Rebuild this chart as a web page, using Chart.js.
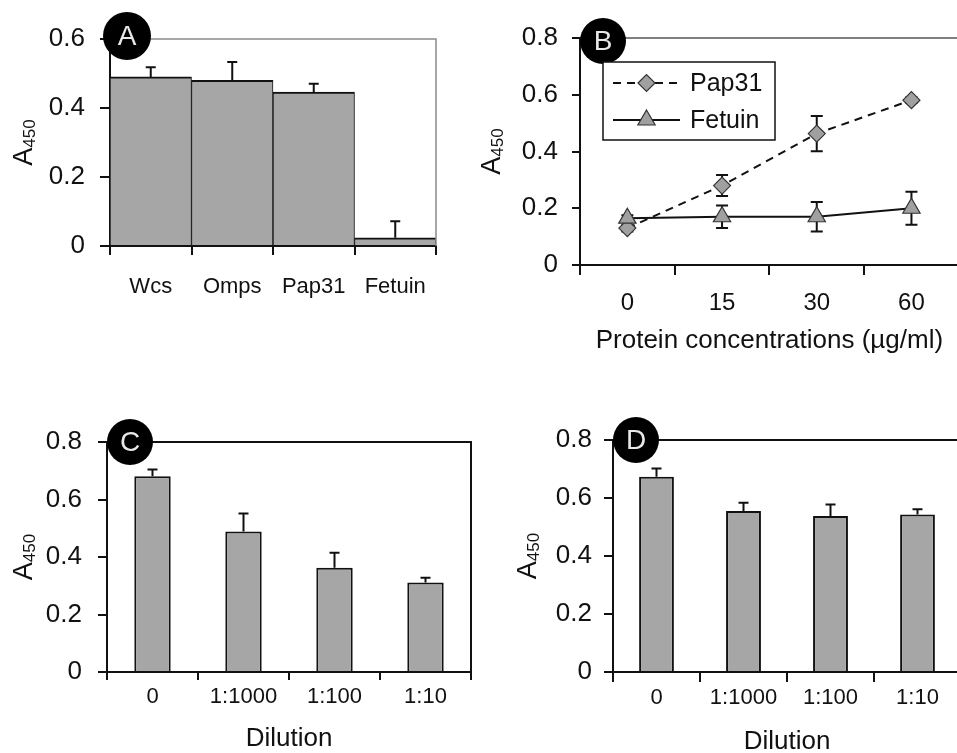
<!DOCTYPE html>
<html>
<head>
<meta charset="utf-8">
<script src="https://cdn.jsdelivr.net/npm/chart.js@4.4.0/dist/chart.umd.min.js"></script>
<style>
  html, body { margin: 0; padding: 0; background: #fff; }
  body { width: 957px; height: 753px; overflow: hidden; position: relative; }
  canvas { position: absolute; }
</style>
</head>
<body>
<canvas id="panelA" width="460" height="320" style="left:0;top:0"></canvas>
<canvas id="panelB" width="500" height="360" style="left:470px;top:0"></canvas>
<canvas id="panelC" width="480" height="370" style="left:0;top:390px"></canvas>
<canvas id="panelD" width="490" height="370" style="left:480px;top:390px"></canvas>
<script>
'use strict';

// Panel A - binding to proteins
const proteinsA = ['Wcs', 'Omps', 'Pap31', 'Fetuin'];
const valuesA = [0.49, 0.48, 0.446, 0.024];
const errorsA = [0.028, 0.053, 0.024, 0.048];

// Panel B - protein concentration series
const concentrationsB = ['0', '15', '30', '60'];
const pap31B = [0.13, 0.28, 0.463, 0.581];
const pap31ErrB = [0.012, 0.037, 0.062, 0.01];
const fetuinB = [0.165, 0.17, 0.17, 0.2];
const fetuinErrB = [0.01, 0.04, 0.052, 0.058];

// Panels C and D - dilutions
const dilutions = ['0', '1:1000', '1:100', '1:10'];
const valuesC = [0.681, 0.489, 0.363, 0.311];
const errorsC = [0.023, 0.062, 0.052, 0.017];
const valuesD = [0.673, 0.555, 0.538, 0.543];
const errorsD = [0.029, 0.029, 0.04, 0.018];

const INK = '#111';
const BAR_GREY = '#a6a6a6';
const FONT = '"Liberation Sans", Arial, sans-serif';

Chart.defaults.font.family = FONT;
Chart.defaults.color = INK;
Chart.defaults.animation = false;

// error bars, drawn from the dataset's values through the y scale
const errorBars = {
    id: 'errorBars',
    beforeDatasetsDraw(chart, args, opts) {
        if (opts.mode === 'both') drawErrors(chart, opts);
    },
    afterDatasetsDraw(chart, args, opts) {
        if (opts.mode === 'up') drawErrors(chart, opts);
    }
};

function drawErrors(chart, opts) {
    const ctx = chart.ctx;
    const yScale = chart.scales.y;
    ctx.save();
    ctx.strokeStyle = INK;
    ctx.lineWidth = 2;
    chart.data.datasets.forEach((ds, di) => {
        if (!ds.errors) return;
        const meta = chart.getDatasetMeta(di);
        meta.data.forEach((el, i) => {
            const v = ds.data[i];
            const e = ds.errors[i];
            const yTop = yScale.getPixelForValue(v + e);
            const yBot = opts.mode === 'both' ? yScale.getPixelForValue(v - e) : yScale.getPixelForValue(v);
            const half = opts.cap / 2;
            ctx.beginPath();
            ctx.moveTo(el.x, yBot);
            ctx.lineTo(el.x, yTop);
            ctx.moveTo(el.x - half, yTop);
            ctx.lineTo(el.x + half, yTop);
            if (opts.mode === 'both') {
                ctx.moveTo(el.x - half, yBot);
                ctx.lineTo(el.x + half, yBot);
            }
            ctx.stroke();
        });
    });
    ctx.restore();
}

// frame lines, panel letter badge and the A450 axis label
const panelDecor = {
    id: 'panelDecor',
    afterDraw(chart, args, opts) {
        const { ctx, chartArea: a } = chart;
        ctx.save();
        ctx.strokeStyle = opts.frameColor;
        ctx.lineWidth = opts.frameWidth;
        ctx.beginPath();
        ctx.moveTo(a.left, a.top);
        ctx.lineTo(a.right, a.top);
        if (opts.frameRight) ctx.lineTo(a.right, a.bottom);
        ctx.stroke();

        // y axis label: A with subscript 450
        const cx = a.left + opts.labelDx;
        const cy = (a.top + a.bottom) / 2;
        ctx.translate(cx, cy);
        ctx.rotate(-Math.PI / 2);
        ctx.fillStyle = INK;
        ctx.textBaseline = 'alphabetic';
        ctx.textAlign = 'left';
        ctx.font = '27px ' + FONT;
        const wA = ctx.measureText('A').width;
        ctx.font = '17px ' + FONT;
        const wSub = ctx.measureText('450').width;
        const x0 = -(wA + wSub) / 2;
        ctx.font = '27px ' + FONT;
        ctx.fillText('A', x0, 9);
        ctx.font = '17px ' + FONT;
        ctx.fillText('450', x0 + wA, 12);
        ctx.setTransform(1, 0, 0, 1, 0, 0);

        // letter badge
        const bx = a.left + opts.badgeDx;
        const by = a.top + opts.badgeDy;
        ctx.fillStyle = '#000';
        ctx.beginPath();
        ctx.arc(bx, by, opts.badgeR, 0, Math.PI * 2);
        ctx.fill();
        ctx.fillStyle = '#e8e8e8';
        ctx.font = '28px ' + FONT;
        ctx.textAlign = 'center';
        ctx.textBaseline = 'middle';
        ctx.fillText(opts.letter, bx, by + 1);
        ctx.restore();
    }
};

// boxed legend inside the plot of panel B
const insideLegend = {
    id: 'insideLegend',
    afterDraw(chart, args, opts) {
        if (!opts.show) return;
        const { ctx, chartArea: a } = chart;
        const x0 = a.left + opts.dx;
        const y0 = a.top + opts.dy;
        ctx.save();
        ctx.fillStyle = '#fff';
        ctx.fillRect(x0, y0, opts.w, opts.h);
        ctx.strokeStyle = INK;
        ctx.lineWidth = 1.5;
        ctx.strokeRect(x0, y0, opts.w, opts.h);
        opts.order.forEach((di, row) => {
            const ds = chart.data.datasets[di];
            const cy = y0 + opts.rowTop + row * opts.rowGap;
            const lx = x0 + 10;
            const lw = 67;
            ctx.strokeStyle = ds.borderColor;
            ctx.lineWidth = ds.borderWidth;
            ctx.setLineDash(ds.borderDash || []);
            ctx.beginPath();
            ctx.moveTo(lx, cy);
            ctx.lineTo(lx + lw, cy);
            ctx.stroke();
            ctx.setLineDash([]);
            ctx.fillStyle = ds.pointBackgroundColor;
            ctx.strokeStyle = ds.pointBorderColor;
            ctx.lineWidth = ds.pointBorderWidth;
            Chart.helpers.drawPoint(ctx, {
                pointStyle: ds.pointStyle,
                radius: ds.pointRadius,
                rotation: 0,
                borderWidth: ds.pointBorderWidth
            }, lx + lw / 2, cy);
            ctx.fillStyle = INK;
            ctx.font = '25px ' + FONT;
            ctx.textAlign = 'left';
            ctx.textBaseline = 'middle';
            ctx.fillText(ds.label, lx + lw + 10, cy + 1);
        });
        ctx.restore();
    }
};

function yAxis(max, width, tickLen, pad) {
    return {
        min: 0,
        max: max,
        afterFit: scale => { scale.width = width; },
        ticks: { stepSize: 0.2, padding: pad, color: INK, font: { size: 26 } },
        grid: { drawOnChartArea: false, tickLength: tickLen, color: INK, lineWidth: 2 },
        border: { color: INK, width: 2 }
    };
}

function xAxis(height, tickLen, pad, fontSize, title, titleSize, titlePad) {
    return {
        type: 'category',
        offset: true,
        afterFit: scale => { scale.height = height; },
        ticks: { padding: pad, color: INK, font: { size: fontSize }, maxRotation: 0, autoSkip: false },
        grid: { offset: true, drawOnChartArea: false, tickLength: tickLen, color: INK, lineWidth: 2 },
        border: { color: INK, width: 2 },
        title: {
            display: !!title,
            text: title || '',
            color: INK,
            font: { size: titleSize || 26 },
            padding: { top: 0, bottom: titlePad || 0 }
        }
    };
}

function barPanel(canvasId, labels, values, errors, layout) {
    const ctx = document.getElementById(canvasId).getContext('2d');
    return new Chart(ctx, {
        type: 'bar',
        data: {
            labels: labels,
            datasets: [{
                data: values,
                errors: errors,
                backgroundColor: BAR_GREY,
                borderColor: INK,
                borderWidth: layout.barBorder,
                barPercentage: layout.barPct,
                categoryPercentage: 1
            }]
        },
        options: {
            responsive: false,
            layout: { padding: layout.padding },
            scales: {
                x: xAxis(layout.xHeight, layout.xTick, layout.xPad, layout.xFont, layout.title, 26, layout.titlePad),
                y: yAxis(layout.yMax, layout.yWidth, layout.yTick, layout.yPad)
            },
            plugins: {
                legend: { display: false },
                tooltip: { enabled: false },
                errorBars: { mode: 'up', cap: 10 },
                panelDecor: layout.decor,
                insideLegend: { show: false }
            }
        },
        plugins: [errorBars, panelDecor, insideLegend]
    });
}

// Panel A
barPanel('panelA', proteinsA, valuesA, errorsA, {
    barBorder: { top: 2, left: 1, right: 1, bottom: 0 },
    barPct: 1,
    padding: { top: 39, right: 24, left: 0, bottom: 0 },
    xHeight: 74, xTick: 9, xPad: 19, xFont: 22,
    yMax: 0.6, yWidth: 110, yTick: 10, yPad: 15,
    decor: { frameColor: '#8a8a8a', frameWidth: 1.5, frameRight: true, labelDx: -87,
             letter: 'A', badgeDx: 17, badgeDy: -3, badgeR: 24 }
});

// Panel B
const ctxB = document.getElementById('panelB').getContext('2d');
new Chart(ctxB, {
    type: 'line',
    data: {
        labels: concentrationsB,
        datasets: [{
            label: 'Pap31',
            data: pap31B,
            errors: pap31ErrB,
            order: 2,
            borderColor: INK,
            borderWidth: 2,
            borderDash: [8, 6],
            tension: 0,
            fill: false,
            pointStyle: 'rectRot',
            pointRadius: 8.5,
            pointBackgroundColor: '#a0a0a0',
            pointBorderColor: '#333',
            pointBorderWidth: 1.2
        }, {
            label: 'Fetuin',
            data: fetuinB,
            errors: fetuinErrB,
            order: 1,
            borderColor: INK,
            borderWidth: 2,
            tension: 0,
            fill: false,
            pointStyle: 'triangle',
            pointRadius: 10,
            pointBackgroundColor: '#a0a0a0',
            pointBorderColor: '#333',
            pointBorderWidth: 1.2
        }]
    },
    options: {
        responsive: false,
        layout: { padding: { top: 38, right: 6, left: 0, bottom: 0 } },
        scales: {
            x: xAxis(95, 10, 14, 24, 'Protein concentrations (µg/ml)', 26, 4),
            y: yAxis(0.8, 110, 8, 14)
        },
        plugins: {
            legend: { display: false },
            tooltip: { enabled: false },
            errorBars: { mode: 'both', cap: 12 },
            panelDecor: { frameColor: '#555', frameWidth: 1.5, frameRight: false, labelDx: -89,
                          letter: 'B', badgeDx: 23, badgeDy: 3, badgeR: 23 },
            insideLegend: { show: true, dx: 23, dy: 24, w: 172, h: 78, rowTop: 21, rowGap: 37, order: [0, 1] }
        }
    },
    plugins: [errorBars, panelDecor, insideLegend]
});

// Panel C
barPanel('panelC', dilutions, valuesC, errorsC, {
    barBorder: 2,
    barPct: 0.4,
    padding: { top: 52, right: 9, left: 0, bottom: 0 },
    xHeight: 88, xTick: 8, xPad: 4, xFont: 22, title: 'Dilution', titlePad: 6,
    yMax: 0.8, yWidth: 107, yTick: 9, yPad: 16,
    decor: { frameColor: INK, frameWidth: 2, frameRight: true, labelDx: -84,
             letter: 'C', badgeDx: 23, badgeDy: 0, badgeR: 23 }
});

// Panel D
barPanel('panelD', dilutions, valuesD, errorsD, {
    barBorder: 2,
    barPct: 0.4,
    padding: { top: 50, right: 9, left: 0, bottom: 0 },
    xHeight: 88, xTick: 10, xPad: 3, xFont: 22, title: 'Dilution', titlePad: 3,
    yMax: 0.8, yWidth: 133, yTick: 9, yPad: 12,
    decor: { frameColor: INK, frameWidth: 2, frameRight: false, labelDx: -86,
             letter: 'D', badgeDx: 23, badgeDy: 0, badgeR: 23 }
});
</script>
</body>
</html>
